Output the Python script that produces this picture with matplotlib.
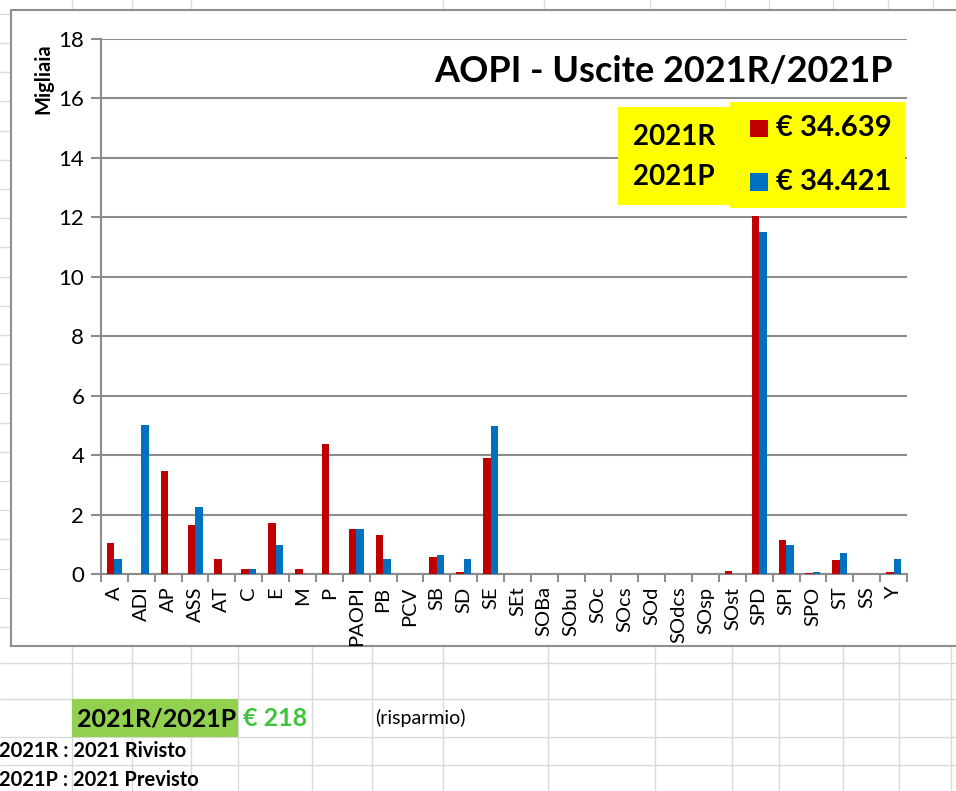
import matplotlib
matplotlib.use("Agg")
import matplotlib.pyplot as plt
from matplotlib.patches import Rectangle
import numpy as np

plt.rcParams['font.family'] = ['Lato', 'DejaVu Sans']

# categories and values (thousands of euro)
categories = ['A', 'ADI', 'AP', 'ASS', 'AT', 'C', 'E', 'M', 'P', 'PAOPI', 'PB', 'PCV',
              'SB', 'SD', 'SE', 'SEt', 'SOBa', 'SObu', 'SOc', 'SOcs', 'SOd', 'SOdcs',
              'SOsp', 'SOst', 'SPD', 'SPI', 'SPO', 'ST', 'SS', 'Y']
rivisto_2021 = [1.05, 0, 3.48, 1.65, 0.52, 0.16, 1.73, 0.18, 4.39, 1.50, 1.31, 0,
                0.57, 0.08, 3.89, 0, 0, 0, 0, 0, 0, 0,
                0, 0.10, 12.05, 1.13, 0.03, 0.46, 0, 0.08]
previsto_2021 = [0.49, 5.0, 0, 2.24, 0, 0.18, 0.99, 0, 0, 1.50, 0.49, 0,
                 0.64, 0.49, 4.98, 0, 0, 0, 0, 0, 0, 0,
                 0, 0, 11.5, 0.99, 0.08, 0.70, 0, 0.49]
yticks = [0, 2, 4, 6, 8, 10, 12, 14, 16, 18]
series_names = ['2021R', '2021P']
series_totals = ['€ 34.639', '€ 34.421']
difference = '€ 218'

red = '#c00000'
blue = '#0070c0'
grid_gray = '#8c8c8c'
sheet_gray = '#dadada'

W, H = 956, 791
fig = plt.figure(figsize=(W / 100, H / 100), dpi=100)

# spreadsheet background (pixel coordinates)
bg = fig.add_axes([0, 0, 1, 1], zorder=0)
bg.set_xlim(0, W)
bg.set_ylim(H, 0)
bg.axis('off')
row_y = [13.8 + 29.2 * k for k in range(22)]
bg.hlines(row_y, 0, W, color=sheet_gray, lw=1, zorder=1)
bg.hlines([662.7, 699, 736.7, 765], 0, W, color=sheet_gray, lw=1, zorder=1)
bg.vlines([72, 132, 191, 238, 312, 372, 443, 548, 655, 732, 779, 843, 899, 951],
          646, H, color=sheet_gray, lw=1, zorder=1)
bg.vlines([72, 132, 191, 443, 544, 650, 725, 769, 833, 888, 933], 0, 10,
          color=sheet_gray, lw=1, zorder=1)
bg.add_patch(Rectangle((11, 10), W, 636, facecolor='white', edgecolor='#8f8f8f',
                       lw=1.5, zorder=2))

# green summary cell
bg.add_patch(Rectangle((72, 699), 166, 38, facecolor='#92d050', edgecolor='none', zorder=2))
bg.text(77, 719, '2021R/2021P', fontsize=18, fontweight='bold', va='center', ha='left')
bg.text(243, 719, difference, fontsize=18, fontweight='bold', color='#3cc43c',
        va='center', ha='left')
bg.text(375, 718, '(risparmio)', fontsize=14, va='center', ha='left')
bg.text(-1, 751, '2021R : 2021 Rivisto', fontsize=14.5, fontweight='bold', va='center')
bg.text(-1, 780, '2021P : 2021 Previsto', fontsize=14.5, fontweight='bold', va='center')

# main chart
x0, x1, ytop, ybot = 101, 907, 39, 574
ax = fig.add_axes([x0 / W, (H - ybot) / H, (x1 - x0) / W, (ybot - ytop) / H], zorder=1)
ax.set_facecolor('none')
x = np.arange(len(categories))
bw = 0.28
ax.bar(x - bw / 2, rivisto_2021, bw, color=red, zorder=3)
ax.bar(x + bw / 2, previsto_2021, bw, color=blue, zorder=3)
ax.set_xlim(-0.5, len(categories) - 0.5)
ax.set_ylim(0, 18)
ax.set_yticks(yticks)
ax.set_yticklabels([str(v) for v in yticks], fontsize=16)
ax.yaxis.grid(True, color=grid_gray, lw=1.5)
ax.set_axisbelow(True)
ax.set_xticks(x)
ax.set_xticklabels(categories, rotation=90, fontsize=14.5)
ax.set_xticks(np.arange(len(categories) + 1) - 0.5, minor=True)
ax.tick_params(axis='x', which='major', length=0, pad=9)
ax.tick_params(axis='x', which='minor', length=6, color=grid_gray, width=1.5)
ax.tick_params(axis='y', length=7, color=grid_gray, width=1.5, pad=5)
for s in ['top', 'right']:
    ax.spines[s].set_visible(False)
for s in ['left', 'bottom']:
    ax.spines[s].set_color(grid_gray)
    ax.spines[s].set_linewidth(1.5)

# overlay: title, axis label, legend boxes
ov = fig.add_axes([0, 0, 1, 1], zorder=5)
ov.set_xlim(0, W)
ov.set_ylim(H, 0)
ov.axis('off')
ov.text(893, 72, 'AOPI - Uscite 2021R/2021P', fontsize=26, fontweight='bold',
        ha='right', va='center')
ov.text(43, 79, 'Migliaia', fontsize=14.5, fontweight='bold', rotation=90,
        ha='center', va='center')
ov.add_patch(Rectangle((618, 107), 112, 98, facecolor='#ffff00', edgecolor='none'))
ov.add_patch(Rectangle((730, 102), 175, 106, facecolor='#ffff00', edgecolor='none'))
ov.text(633, 137, series_names[0], fontsize=20, fontweight='bold', va='center')
ov.text(633, 177, series_names[1], fontsize=20, fontweight='bold', va='center')
ov.add_patch(Rectangle((750, 120), 18, 17, facecolor=red, edgecolor='none'))
ov.add_patch(Rectangle((750, 173), 18, 18, facecolor=blue, edgecolor='none'))
ov.text(776, 128, series_totals[0], fontsize=21, fontweight='bold', va='center')
ov.text(776, 182, series_totals[1], fontsize=21, fontweight='bold', va='center')

fig.savefig('out.png', dpi=100)
